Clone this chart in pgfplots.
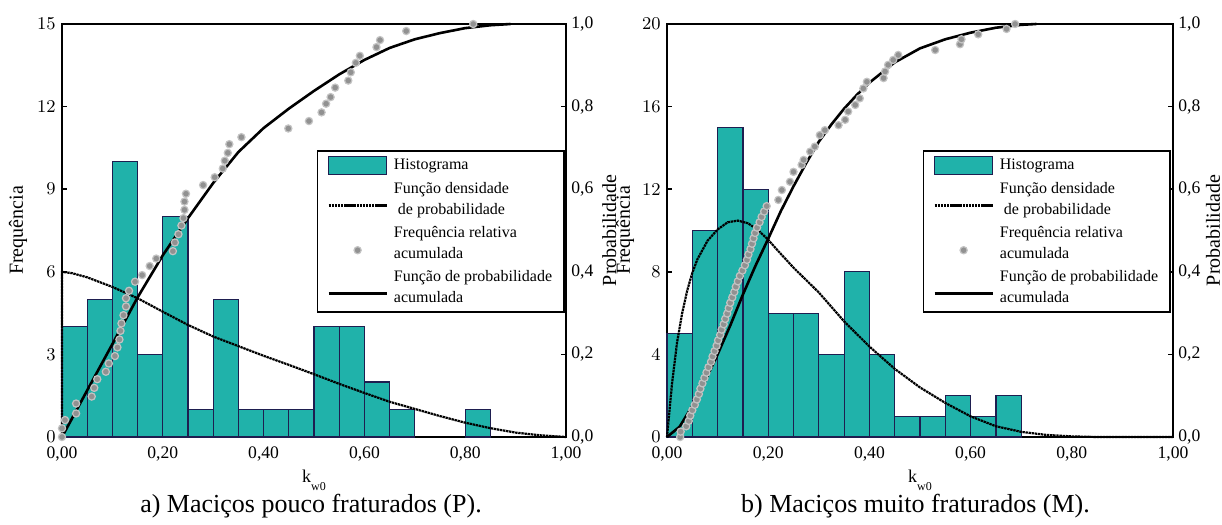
\documentclass[border=0pt]{standalone}
\usepackage{fontspec}
\setmainfont{Liberation Serif}
\usepackage{pgfplots}
\pgfplotsset{compat=1.18}

\definecolor{histfill}{RGB}{32,178,170}
\definecolor{histedge}{RGB}{30,30,80}
\definecolor{dotfill}{RGB}{145,145,145}
\definecolor{dotring}{RGB}{195,195,195}

\pgfplotsset{
  panel/.style={
    scale only axis, height=206.5pt,
    xmin=0, xmax=1, ymin=0, clip=false,
    axis line style={line width=0.9pt},
    tick style={line width=0.8pt, black},
    major tick length=2.5pt, tick align=inside,
    ticklabel style={font=\fontsize{8.8}{10}\selectfont},
    label style={font=\fontsize{8.5}{10}\selectfont},
  },
  freqaxis/.style={panel,
    xtick={0,0.2,0.4,0.6,0.8,1},
    xticklabels={{0,00},{0,20},{0,40},{0,60},{0,80},{1,00}},
    xtick style={draw=none},
    xtick pos=bottom, ytick pos=left,
    xticklabel style={inner sep=0pt, anchor=north, yshift=-4.5pt},
    yticklabel style={inner sep=0pt, anchor=east, xshift=-3pt},
    every axis y label/.style={at={(axis description cs:-0.087,0.5)}, rotate=90, anchor=center},
    every axis x label/.style={at={(axis description cs:0.5,0)}, anchor=north, inner sep=0pt, yshift=-16.5pt, font=\fontsize{9}{10}\selectfont},
    xlabel={k\raisebox{-4pt}{\fontsize{6}{7}\selectfont w0}},
    ylabel={Frequência},
  },
  probaxis/.style={panel,
    axis y line*=right, axis x line=none, xtick=\empty,
    ymax=1, ytick={0,0.2,0.4,0.6,0.8,1},
    yticklabels={{0,0},{0,2},{0,4},{0,6},{0,8},{1,0}},
    yticklabel style={inner sep=0pt, anchor=west, xshift=2.5pt},
    every axis y label/.style={at={(axis description cs:1.086,0.5)}, rotate=90, anchor=center},
    ylabel={Probabilidade},
    legend style={at={(axis description cs:0.505,0.695)}, anchor=north west,
      draw=black, line width=0.8pt, fill=white,
      font=\fontsize{8}{10.5}\selectfont, align=left,
      inner xsep=5pt, inner ysep=2.5pt, row sep=2.5pt, column sep=2pt,
      nodes={inner sep=1pt}},
    legend cell align=left,
  },
  histstyle/.style={fill=histfill, draw=histedge, line width=0.6pt},
  pdfstyle/.style={black, line width=1.1pt, dash pattern=on 1.2pt off 0.35pt},
  cdfstyle/.style={black, line width=1.3pt},
  dotstyle/.style={only marks, mark=*, mark size=1.8pt, mark options={fill=dotfill, draw=dotring, line width=0.6pt}},
  barlegend/.style={legend image code/.code={\draw[##1] (0pt,-4.5pt) rectangle (29pt,4.5pt);}},
  linelegend/.style={legend image code/.code={\draw[##1] (0pt,-3pt) -- (29pt,-3pt);}},
  dotlegend/.style={legend image code/.code={\draw[##1] plot coordinates {(14.5pt,-3.3pt)};}},
}

\begin{document}
\begin{tikzpicture}
\path[use as bounding box] (-31pt,-44pt) rectangle (580pt,218.5pt);

% ---------- a) pouco fraturados ----------
\begin{axis}[freqaxis, at={(0pt,0pt)}, anchor=south west, width=252pt,
  ymax=15, ytick={0,3,6,9,12,15}]
\addplot[histstyle, ybar interval] coordinates {
  (0,4) (0.05,5) (0.10,10) (0.15,3) (0.20,8) (0.25,1) (0.30,5) (0.35,1)
  (0.40,1) (0.45,1) (0.50,4) (0.55,4) (0.60,2) (0.65,1) (0.70,1)
};
\addplot[histstyle, ybar interval] coordinates {(0.80,1) (0.85,1)};
\addplot[pdfstyle] coordinates {
  (0,0) (0,6) (0.02,5.95) (0.05,5.8) (0.10,5.45) (0.15,5.04) (0.20,4.55)
  (0.25,4.07) (0.30,3.65) (0.35,3.3) (0.40,2.95) (0.45,2.62) (0.50,2.28)
  (0.55,1.93) (0.60,1.6) (0.65,1.28) (0.70,1.02) (0.75,0.76) (0.80,0.52)
  (0.85,0.32) (0.90,0.16) (0.95,0.06) (1.0,0)
};
\end{axis}
\begin{axis}[probaxis, at={(0pt,0pt)}, anchor=south west, width=252pt]
\addlegendimage{histstyle, barlegend}
\addlegendentry{Histograma}
\addlegendimage{pdfstyle, linelegend}
\addlegendentry{Função densidade\\\hspace*{0.25em}de probabilidade}
\addplot[dotstyle, dotlegend] coordinates {
  (0,0) (0,0.021) (0.006,0.041) (0.028,0.057) (0.028,0.081) (0.059,0.098)
  (0.064,0.119) (0.070,0.140) (0.087,0.158) (0.093,0.178) (0.105,0.196)
  (0.110,0.217) (0.114,0.236) (0.116,0.257) (0.118,0.275) (0.122,0.295)
  (0.127,0.316) (0.127,0.336) (0.133,0.354) (0.145,0.376) (0.159,0.392)
  (0.174,0.414) (0.187,0.432) (0.220,0.450) (0.224,0.471) (0.231,0.491)
  (0.237,0.512) (0.241,0.530) (0.243,0.550) (0.243,0.570) (0.246,0.589)
  (0.280,0.610) (0.303,0.629) (0.319,0.650) (0.323,0.669) (0.329,0.688)
  (0.332,0.709) (0.356,0.726) (0.449,0.747) (0.490,0.765) (0.515,0.786)
  (0.524,0.807) (0.533,0.823) (0.542,0.846) (0.568,0.863) (0.573,0.883)
  (0.583,0.906) (0.591,0.923) (0.624,0.944) (0.631,0.961) (0.683,0.983)
  (0.816,1.0)
};
\addlegendentry{Frequência relativa\\acumulada}
\addplot[cdfstyle, linelegend] coordinates {
  (0,0) (0.05,0.113) (0.10,0.225) (0.15,0.338) (0.20,0.44) (0.25,0.53)
  (0.30,0.615) (0.35,0.69) (0.40,0.748) (0.45,0.795) (0.50,0.838)
  (0.55,0.878) (0.60,0.913) (0.65,0.942) (0.70,0.963) (0.75,0.978)
  (0.80,0.99) (0.85,0.997) (0.89,1.0)
};
\addlegendentry{Função de probabilidade\\acumulada}
\end{axis}

% ---------- b) muito fraturados ----------
\begin{axis}[freqaxis, at={(302.5pt,0pt)}, anchor=south west, width=253pt,
  ymax=20, ytick={0,4,8,12,16,20},
  every axis y label/.style={at={(axis description cs:-0.083,0.5)}, rotate=90, anchor=center}]
\addplot[histstyle, ybar interval] coordinates {
  (0,5) (0.05,10) (0.10,15) (0.15,12) (0.20,6) (0.25,6) (0.30,4) (0.35,8)
  (0.40,4) (0.45,1) (0.50,1) (0.55,2) (0.60,1) (0.65,2) (0.70,2)
};
\addplot[pdfstyle] coordinates {
  (0,0) (0.01,2.6) (0.02,4.6) (0.03,6.0) (0.04,7.1) (0.05,7.95) (0.06,8.6)
  (0.08,9.5) (0.10,10.05) (0.12,10.4) (0.14,10.48) (0.16,10.35) (0.18,10.02)
  (0.20,9.55) (0.22,9.0) (0.25,8.2) (0.30,7.0) (0.35,5.6) (0.40,4.38)
  (0.45,3.3) (0.50,2.4) (0.55,1.65) (0.60,1.0) (0.65,0.52) (0.70,0.25)
  (0.75,0.1) (0.80,0.03) (0.85,0) (1.0,0)
};
\end{axis}
\begin{axis}[probaxis, at={(302.5pt,0pt)}, anchor=south west, width=253pt,
  every axis y label/.style={at={(axis description cs:1.079,0.5)}, rotate=90, anchor=center}]
\addlegendimage{histstyle, barlegend}
\addlegendentry{Histograma}
\addlegendimage{pdfstyle, linelegend}
\addlegendentry{Função densidade\\\hspace*{0.25em}de probabilidade}
\addplot[dotstyle, dotlegend] coordinates {
  (0.026,0.000) (0.027,0.013) (0.038,0.026) (0.043,0.039) (0.046,0.052)
  (0.050,0.065) (0.055,0.078) (0.059,0.091) (0.063,0.104) (0.066,0.117)
  (0.070,0.130) (0.074,0.143) (0.078,0.156) (0.082,0.169) (0.087,0.182)
  (0.090,0.195) (0.094,0.208) (0.098,0.221) (0.101,0.234) (0.105,0.247)
  (0.108,0.260) (0.112,0.273) (0.115,0.286) (0.119,0.299) (0.122,0.312)
  (0.125,0.325) (0.129,0.338) (0.133,0.351) (0.136,0.364) (0.140,0.377)
  (0.144,0.390) (0.149,0.403) (0.154,0.416) (0.158,0.429) (0.161,0.442)
  (0.165,0.455) (0.168,0.468) (0.171,0.481) (0.174,0.494) (0.178,0.507)
  (0.183,0.520) (0.187,0.533) (0.192,0.546) (0.197,0.559)
  (0.220,0.574) (0.227,0.598) (0.243,0.618) (0.250,0.642) (0.266,0.659)
  (0.270,0.671) (0.283,0.691) (0.292,0.703) (0.302,0.731) (0.312,0.743)
  (0.339,0.755) (0.352,0.768) (0.358,0.788) (0.372,0.804) (0.381,0.820)
  (0.388,0.844) (0.395,0.860) (0.428,0.869) (0.431,0.885) (0.437,0.901)
  (0.447,0.913) (0.457,0.925) (0.530,0.937) (0.579,0.951) (0.582,0.963)
  (0.615,0.975) (0.671,0.988) (0.688,1.0)
};
\addlegendentry{Frequência relativa\\acumulada}
\addplot[cdfstyle, linelegend] coordinates {
  (0,0) (0.025,0.025) (0.05,0.075) (0.075,0.135) (0.10,0.20) (0.125,0.27)
  (0.15,0.345) (0.175,0.415) (0.20,0.48) (0.225,0.547) (0.25,0.607)
  (0.275,0.663) (0.30,0.715) (0.325,0.757) (0.35,0.795) (0.375,0.828)
  (0.40,0.858) (0.45,0.907) (0.50,0.941) (0.55,0.963) (0.60,0.979)
  (0.65,0.991) (0.70,0.998) (0.73,1.0)
};
\addlegendentry{Função de probabilidade\\acumulada}
\end{axis}

\node[anchor=base, font=\fontsize{13}{15}\selectfont] at (124.5pt,-37.5pt) {a) Maciços pouco fraturados (P).};
\node[anchor=base, font=\fontsize{13}{15}\selectfont] at (426.75pt,-37.5pt) {b) Maciços muito fraturados (M).};
\end{tikzpicture}
\end{document}
